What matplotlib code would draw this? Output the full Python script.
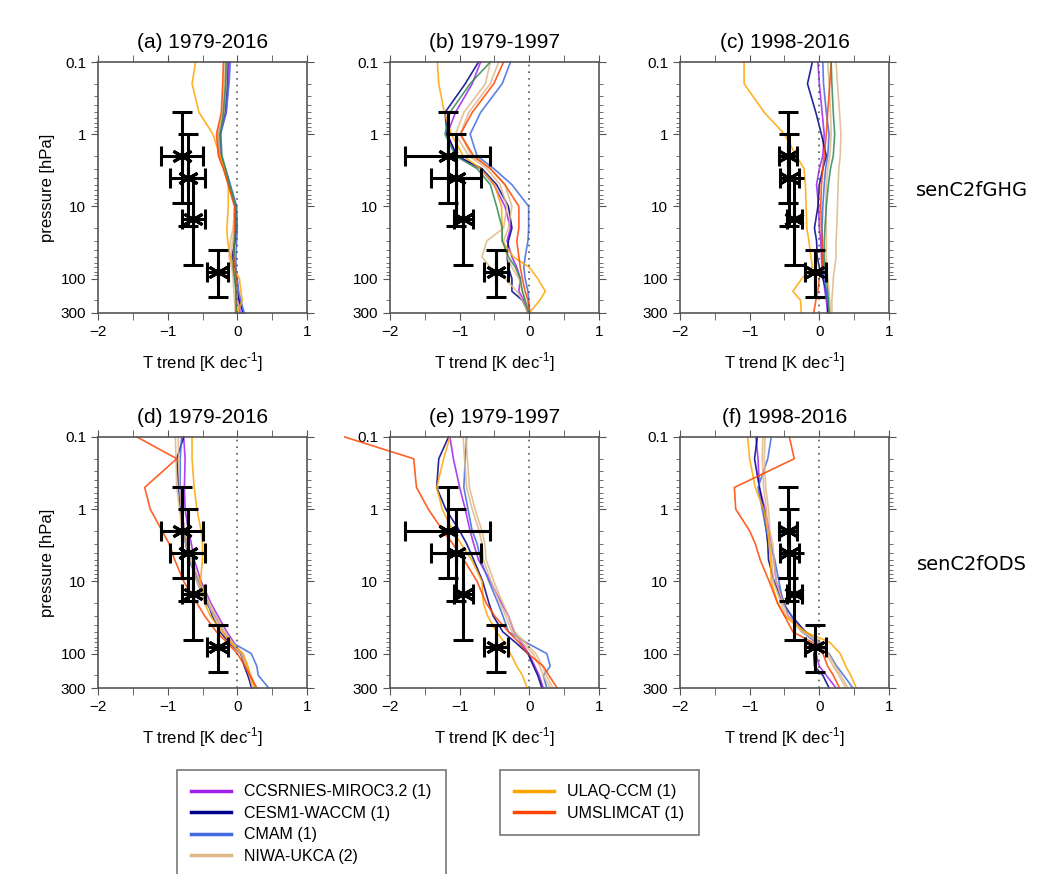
import numpy as np
import matplotlib.pyplot as plt
from matplotlib.lines import Line2D

plt.rcParams['font.family'] = ['Liberation Sans', 'DejaVu Sans']
plt.rcParams['mathtext.fontset'] = 'custom'
plt.rcParams['mathtext.rm'] = 'Liberation Sans'

# pressure levels [hPa] shared by all model profiles
pres = [0.1, 0.2, 0.5, 1, 2, 3, 5, 10, 20, 30, 50, 70, 100, 150, 200, 300]

models = ['CCSRNIES-MIROC3.2 (1)', 'CESM1-WACCM (1)', 'CMAM (1)', 'NIWA-UKCA (2)',
          'ULAQ-CCM (1)', 'UMSLIMCAT (1)']
colors = {'CCSRNIES-MIROC3.2 (1)': '#a020f0', 'CESM1-WACCM (1)': '#00008b',
          'CMAM (1)': '#4169e1', 'NIWA-UKCA (2)': '#deb887',
          'ULAQ-CCM (1)': '#ffa500', 'UMSLIMCAT (1)': '#ff4500', 'other': '#2e8b57'}

# temperature trends [K/decade], one dict per panel
ghg_7916 = {
    'CCSRNIES-MIROC3.2 (1)': [-0.12, -0.13, -0.16, -0.25, -0.24, -0.18, -0.12, -0.03, -0.02, -0.04, -0.06, -0.04, -0.02, 0.0, 0.02, 0.04],
    'CESM1-WACCM (1)': [-0.14, -0.15, -0.18, -0.27, -0.25, -0.19, -0.12, -0.02, -0.02, -0.03, -0.08, -0.05, -0.03, -0.01, 0.03, 0.08],
    'CMAM (1)': [-0.10, -0.12, -0.16, -0.24, -0.23, -0.17, -0.10, -0.01, 0.0, -0.01, -0.02, -0.02, 0.0, 0.02, 0.05, 0.10],
    'NIWA-UKCA (2)': [-0.18, -0.19, -0.21, -0.29, -0.27, -0.20, -0.13, -0.04, -0.06, -0.10, -0.12, -0.08, -0.06, -0.05, -0.04, -0.03],
    'NIWA-UKCA (2) b': [-0.15, -0.16, -0.19, -0.27, -0.25, -0.19, -0.12, -0.03, -0.04, -0.07, -0.09, -0.06, -0.03, -0.01, 0.0, 0.02],
    'ULAQ-CCM (1)': [-0.60, -0.65, -0.55, -0.35, -0.25, -0.18, -0.13, -0.13, -0.15, -0.14, -0.10, -0.06, 0.03, 0.05, 0.07, 0.0],
    'UMSLIMCAT (1)': [-0.20, -0.21, -0.23, -0.30, -0.27, -0.20, -0.13, -0.04, -0.04, -0.04, -0.05, -0.03, -0.02, -0.02, -0.01, -0.02],
    'other': [-0.16, -0.17, -0.20, -0.24, -0.22, -0.17, -0.11, -0.02, -0.02, -0.04, -0.05, -0.06, -0.04, -0.02, -0.02, -0.01],
}
ghg_7997 = {
    'CCSRNIES-MIROC3.2 (1)': [-0.70, -0.82, -1.06, -1.18, -1.04, -0.70, -0.51, -0.35, -0.27, -0.32, -0.25, -0.18, -0.13, -0.15, -0.08, -0.02],
    'CESM1-WACCM (1)': [-0.73, -0.92, -1.21, -1.18, -1.04, -0.68, -0.47, -0.30, -0.25, -0.30, -0.32, -0.30, -0.25, -0.25, -0.10, -0.01],
    'CMAM (1)': [-0.27, -0.39, -0.70, -0.85, -0.75, -0.51, -0.25, -0.01, -0.01, -0.02, -0.06, -0.08, -0.06, -0.02, -0.01, 0.01],
    'NIWA-UKCA (2)': [-0.56, -0.63, -0.94, -1.06, -0.87, -0.61, -0.42, -0.32, -0.37, -0.61, -0.68, -0.56, -0.35, -0.18, -0.10, -0.02],
    'NIWA-UKCA (2) b': [-0.44, -0.56, -0.87, -0.99, -0.83, -0.56, -0.35, -0.25, -0.30, -0.37, -0.32, -0.25, -0.15, -0.10, -0.06, -0.01],
    'ULAQ-CCM (1)': [-1.32, -1.30, -1.22, -1.12, -0.95, -0.70, -0.50, -0.40, -0.39, -0.39, -0.23, 0.0, 0.12, 0.23, 0.15, 0.0],
    'UMSLIMCAT (1)': [-0.37, -0.51, -0.82, -0.99, -0.80, -0.56, -0.35, -0.15, -0.15, -0.18, -0.15, -0.13, -0.10, -0.06, -0.02, 0.0],
    'other': [-0.56, -0.85, -1.14, -1.21, -1.06, -0.75, -0.56, -0.47, -0.39, -0.39, -0.30, -0.20, -0.13, -0.10, -0.06, -0.01],
}
ghg_9816 = {
    'CCSRNIES-MIROC3.2 (1)': [-0.02, 0.0, 0.04, 0.07, 0.05, 0.0, -0.04, -0.01, 0.0, 0.02, 0.03, 0.04, 0.06, 0.08, 0.10, 0.12],
    'CESM1-WACCM (1)': [-0.10, -0.17, -0.05, 0.03, 0.10, 0.05, 0.0, -0.02, -0.07, -0.04, -0.03, 0.0, 0.05, 0.10, 0.12, 0.12],
    'CMAM (1)': [0.05, 0.06, 0.10, 0.14, 0.12, 0.09, 0.07, 0.05, 0.04, 0.04, 0.05, 0.06, 0.07, 0.10, 0.12, 0.14],
    'NIWA-UKCA (2)': [0.24, 0.26, 0.29, 0.31, 0.30, 0.28, 0.27, 0.26, 0.25, 0.24, 0.24, 0.22, 0.20, 0.19, 0.18, 0.18],
    'NIWA-UKCA (2) b': [0.12, 0.14, 0.16, 0.17, 0.15, 0.12, 0.10, 0.09, 0.10, 0.10, 0.10, 0.10, 0.12, 0.14, 0.15, 0.16],
    'ULAQ-CCM (1)': [-1.08, -1.08, -0.79, -0.50, -0.33, -0.22, -0.20, -0.19, -0.18, -0.15, -0.12, -0.10, -0.25, -0.38, -0.27, -0.26],
    'UMSLIMCAT (1)': [0.17, 0.15, 0.12, 0.10, 0.07, 0.05, 0.03, 0.02, 0.03, 0.04, 0.05, 0.04, 0.0, -0.02, -0.05, -0.08],
    'other': [0.17, 0.18, 0.20, 0.22, 0.20, 0.16, 0.13, 0.10, 0.08, 0.07, 0.07, 0.08, 0.10, 0.12, 0.13, 0.14],
}
ods_7916 = {
    'CCSRNIES-MIROC3.2 (1)': [-0.77, -0.75, -0.76, -0.75, -0.70, -0.66, -0.62, -0.52, -0.38, -0.28, -0.15, -0.05, 0.05, 0.12, 0.16, 0.20],
    'CESM1-WACCM (1)': [-0.77, -0.87, -0.84, -0.82, -0.78, -0.74, -0.70, -0.55, -0.42, -0.36, -0.25, -0.12, 0.05, 0.10, 0.15, 0.21],
    'CMAM (1)': [-0.80, -0.82, -0.82, -0.80, -0.76, -0.72, -0.68, -0.58, -0.45, -0.32, -0.20, -0.08, 0.20, 0.28, 0.30, 0.45],
    'NIWA-UKCA (2)': [-0.89, -0.88, -0.87, -0.83, -0.79, -0.74, -0.68, -0.58, -0.42, -0.34, -0.20, -0.10, 0.05, 0.12, 0.17, 0.22],
    'NIWA-UKCA (2) b': [-0.85, -0.84, -0.83, -0.80, -0.76, -0.71, -0.65, -0.55, -0.40, -0.31, -0.18, -0.07, 0.08, 0.15, 0.20, 0.26],
    'ULAQ-CCM (1)': [-0.65, -0.65, -0.62, -0.58, -0.52, -0.50, -0.50, -0.53, -0.47, -0.39, -0.22, -0.10, 0.08, 0.15, 0.18, 0.25],
    'UMSLIMCAT (1)': [-1.44, -0.87, -1.33, -1.25, -1.08, -0.98, -0.90, -0.77, -0.58, -0.47, -0.30, -0.15, 0.0, 0.11, 0.18, 0.28],
}
ods_7997 = {
    'CCSRNIES-MIROC3.2 (1)': [-1.14, -1.09, -1.00, -0.92, -0.85, -0.80, -0.73, -0.56, -0.40, -0.30, -0.22, -0.12, -0.01, 0.08, 0.14, 0.20],
    'CESM1-WACCM (1)': [-1.16, -1.30, -1.33, -1.20, -1.00, -0.90, -0.80, -0.67, -0.58, -0.52, -0.38, -0.20, -0.02, 0.06, 0.12, 0.18],
    'CMAM (1)': [-0.90, -0.92, -0.94, -0.88, -0.82, -0.75, -0.70, -0.58, -0.45, -0.38, -0.30, -0.05, 0.25, 0.30, 0.20, 0.25],
    'NIWA-UKCA (2)': [-0.95, -0.93, -0.90, -0.82, -0.72, -0.68, -0.66, -0.55, -0.42, -0.34, -0.25, -0.10, 0.05, 0.15, 0.20, 0.30],
    'NIWA-UKCA (2) b': [-0.91, -0.89, -0.86, -0.78, -0.68, -0.64, -0.62, -0.51, -0.38, -0.30, -0.21, -0.06, 0.09, 0.19, 0.24, 0.34],
    'ULAQ-CCM (1)': [-1.14, -1.23, -1.33, -1.25, -1.10, -0.98, -0.83, -0.68, -0.66, -0.60, -0.47, -0.36, -0.27, -0.18, -0.10, -0.03],
    'UMSLIMCAT (1)': [-2.65, -1.66, -1.62, -1.45, -1.24, -1.10, -0.94, -0.75, -0.62, -0.50, -0.30, -0.15, -0.02, 0.20, 0.28, 0.40],
}
ods_9816 = {
    'CCSRNIES-MIROC3.2 (1)': [-0.91, -0.88, -0.86, -0.78, -0.72, -0.70, -0.65, -0.62, -0.50, -0.45, -0.20, 0.0, -0.05, 0.0, 0.10, 0.24],
    'CESM1-WACCM (1)': [-0.89, -0.93, -0.86, -0.80, -0.76, -0.74, -0.73, -0.65, -0.52, -0.40, -0.20, 0.0, -0.08, -0.07, 0.05, 0.14],
    'CMAM (1)': [-0.69, -0.74, -0.88, -0.82, -0.76, -0.70, -0.64, -0.58, -0.52, -0.40, -0.25, -0.05, 0.14, 0.25, 0.35, 0.48],
    'NIWA-UKCA (2)': [-0.81, -0.82, -0.80, -0.76, -0.74, -0.70, -0.68, -0.66, -0.55, -0.48, -0.25, 0.0, 0.10, 0.20, 0.28, 0.38],
    'NIWA-UKCA (2) b': [-0.78, -0.79, -0.77, -0.73, -0.71, -0.67, -0.65, -0.62, -0.52, -0.45, -0.22, 0.03, 0.13, 0.23, 0.31, 0.41],
    'ULAQ-CCM (1)': [-1.03, -1.00, -0.92, -0.80, -0.74, -0.72, -0.70, -0.69, -0.60, -0.50, -0.20, 0.15, 0.30, 0.38, 0.45, 0.53],
    'UMSLIMCAT (1)': [-0.43, -0.36, -1.22, -1.20, -1.00, -0.92, -0.85, -0.72, -0.60, -0.50, -0.38, -0.10, 0.05, 0.12, 0.20, 0.29],
}

# observations (same for both rows)
obs_p = [2, 4, 15, 80]
obs_p_top = [0.5, 1, 4, 40]
obs_p_bot = [9, 19, 65, 180]
obs_7916 = [-0.79, -0.71, -0.63, -0.28]
obs_7916_err = [0.30, 0.25, 0.16, 0.15]
obs_7997 = [-1.17, -1.05, -0.945, -0.48]
obs_7997_err = [0.61, 0.36, 0.14, 0.17]
obs_9816 = [-0.455, -0.43, -0.36, -0.06]
obs_9816_err = [0.13, 0.14, 0.11, 0.15]

titles = ['(a) 1979-2016', '(b) 1979-1997', '(c) 1998-2016',
          '(d) 1979-2016', '(e) 1979-1997', '(f) 1998-2016']
panels = [ghg_7916, ghg_7997, ghg_9816, ods_7916, ods_7997, ods_9816]
obs = [(obs_7916, obs_7916_err), (obs_7997, obs_7997_err), (obs_9816, obs_9816_err)] * 2

fig = plt.figure(figsize=(10.5, 8.74), dpi=100)
lefts = [98 / 1050, 390 / 1050, 680 / 1050]
bottoms = [1 - 313 / 874, 1 - 688 / 874]
w, h = 209 / 1050, 251 / 874

for i, data in enumerate(panels):
    ax = fig.add_axes([lefts[i % 3], bottoms[i // 3], w, h])
    for name, vals in data.items():
        key = name.replace(' b', '')
        ax.plot(vals, pres, color=colors[key], lw=1.2, alpha=0.85, clip_on=False)
    ax.axvline(0, color='#555555', lw=1.2, ls=(0, (1, 3)))
    x, xe = obs[i]
    yerr = [np.array(obs_p) - np.array(obs_p_top), np.array(obs_p_bot) - np.array(obs_p)]
    ax.errorbar(x, obs_p, xerr=xe, yerr=yerr, fmt='none', ecolor='black',
                elinewidth=2.2, capsize=7, capthick=2.2, zorder=5)
    ax.plot(x, obs_p, ls='none', marker=(6, 2, 0), ms=15, mew=2.2, color='black', zorder=6)

    ax.set_yscale('log')
    ax.set_ylim(300, 0.1)
    ax.set_xlim(-2, 1)
    ax.set_yticks([0.1, 1, 10, 100, 300])
    ax.set_yticklabels(['0.1', '1', '10', '100', '300'])
    ax.set_xticks([-2, -1, 0, 1])
    ax.set_xticks(np.arange(-2, 1.01, 0.5), minor=True)
    ax.tick_params(which='both', direction='out', top=True, right=True, color='#555555')
    ax.tick_params(which='major', length=5, labelsize=11)
    ax.tick_params(which='minor', length=3)
    ax.tick_params(axis='x', which='minor', length=5)
    for s in ax.spines.values():
        s.set_color('#555555')
        s.set_linewidth(1.2)
    ax.set_title(titles[i], fontsize=15, pad=10)
    ax.set_xlabel(r'T trend [K dec$^{\text{-1}}$]', fontsize=12, labelpad=8)
    if i % 3 == 0:
        ax.set_ylabel('pressure [hPa]', fontsize=12)

fig.text(972 / 1050, 1 - 190 / 874, 'senC2fGHG', family='DejaVu Sans', fontsize=14,
         ha='center', va='center')
fig.text(972 / 1050, 1 - 565 / 874, 'senC2fODS', family='DejaVu Sans', fontsize=14,
         ha='center', va='center')

handles1 = [Line2D([], [], color=colors[m], lw=2.5) for m in models[:4]]
handles2 = [Line2D([], [], color=colors[m], lw=2.5) for m in models[4:]]
leg_kw = dict(loc='upper left', fontsize=11.5, frameon=True, fancybox=False,
              edgecolor='#555555', borderaxespad=0, handlelength=2.5,
              handletextpad=0.8, labelspacing=0.4, borderpad=0.9)
leg1 = fig.legend(handles1, models[:4], bbox_to_anchor=(177 / 1050, 1 - 770 / 874), **leg_kw)
leg2 = fig.legend(handles2, models[4:], bbox_to_anchor=(500 / 1050, 1 - 770 / 874), **leg_kw)
for leg in (leg1, leg2):
    leg.get_frame().set_linewidth(1.2)

fig.savefig('out.png', dpi=100)
